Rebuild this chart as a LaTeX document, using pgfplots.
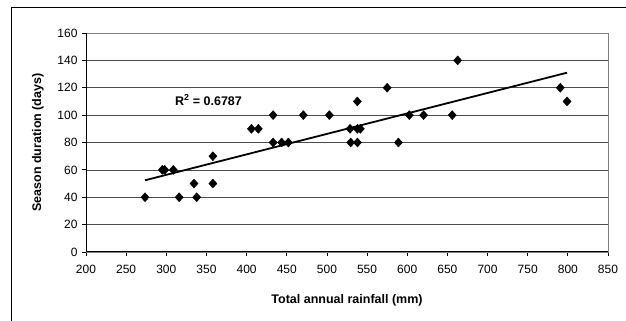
\documentclass[border=0pt]{standalone}
\usepackage{pgfplots}
\pgfplotsset{compat=1.18}
\usepackage{fontspec}
\setmainfont{Liberation Sans}
\begin{document}
\begin{tikzpicture}[x=1pt,y=1pt]
\path[use as bounding box] (0,0) rectangle (626,321);
\draw[black, line width=1pt] (11,-10) rectangle (640,313);
\begin{axis}[
  at={(86pt,69pt)}, anchor=south west,
  scale only axis, width=522pt, height=219pt,
  xmin=200, xmax=850, ymin=0, ymax=160,
  xtick={200,250,...,850}, ytick={0,20,...,160},
  xtick pos=bottom, ytick pos=left,
  tick align=outside, major tick length=4pt,
  tick style={black, line width=0.8pt},
  ymajorgrids, major grid style={black!70, line width=0.6pt},
  axis line style={black!50, line width=0.8pt},
  font=\fontsize{12}{14}\selectfont,
  /pgf/number format/assume math mode=true,
  x tick label style={yshift=-6pt},
  y tick label style={xshift=-1pt},
  xlabel={\bfseries Total annual rainfall (mm)},
  ylabel={\bfseries Season duration (days)},
  xlabel style={font=\fontsize{12.5}{14}\selectfont, at={(axis description cs:0.5,-0.219)}, anchor=center},
  ylabel style={font=\fontsize{12.5}{14}\selectfont, at={(axis description cs:-0.092,0.5)}, anchor=center, rotate=0},
  clip=false,
]
\draw[black, line width=1pt] (rel axis cs:0,1) -- (rel axis cs:0,0) -- (rel axis cs:1,0);
\addplot[only marks, mark=diamond*, mark size=4.5pt, mark options={fill=black, draw=black, xscale=1.2}] coordinates {
(273.5,40) (295,60) (298,60) (308.7,60) (316,40) (334.5,50) (337.8,40)
(358,70) (358,50) (406,90) (414.6,90) (433,100) (433,80) (443.6,80)
(452,80) (470.6,100) (503,100) (528.8,90) (529.6,80) (537.9,110)
(538,80) (538,90) (541.6,90) (575,120) (589,80) (602.6,100)
(620.4,100) (656,100) (662.8,140) (790.6,120) (799,110)
};
\addplot[black, line width=1.8pt, no marks] coordinates {(273.5,52.4) (799,131)};
\node[font=\fontsize{12.5}{14}\selectfont\bfseries, anchor=center] at (axis cs:352.5,111) {R$^{\mathbf{2}}$ = 0.6787};
\end{axis}
\end{tikzpicture}
\end{document}
